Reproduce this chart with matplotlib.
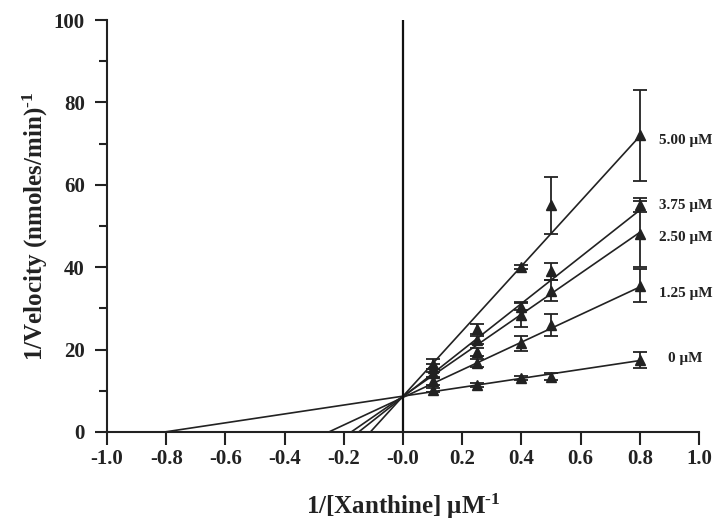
import numpy as np
import matplotlib
matplotlib.use('Agg')
import matplotlib.pyplot as plt
from matplotlib.ticker import MultipleLocator, FixedLocator, FixedFormatter

plt.rcParams['font.family'] = ['Liberation Serif', 'DejaVu Serif']
plt.rcParams['font.weight'] = 'bold'
plt.rcParams['axes.unicode_minus'] = False
plt.rcParams['mathtext.fontset'] = 'custom'
plt.rcParams['mathtext.rm'] = 'Liberation Serif:bold'
plt.rcParams['mathtext.bf'] = 'Liberation Serif:bold'
plt.rcParams['mathtext.default'] = 'rm'

# Данные (Lineweaver-Burk)
x_pts = [0.1, 0.25, 0.4, 0.5, 0.8]  # 1/[Xanthine]
labels = ['0 μM', '1.25 μM', '2.50 μM', '3.75 μM', '5.00 μM']
y_pts = [
    [10.2, 11.3, 13.0, 13.4, 17.5],
    [12.3, 16.8, 21.5, 26.0, 35.5],
    [14.3, 19.5, 28.5, 34.3, 48.0],
    [15.5, 22.3, 30.4, 39.0, 55.0],
    [16.5, 25.0, 40.0, 55.0, 72.0],
]
y_err = [
    [0.5, 0.5, 0.5, 0.9, 2.0],
    [0.8, 1.0, 1.8, 2.7, 4.0],
    [1.0, 1.0, 3.0, 2.5, 8.0],
    [1.0, 1.0, 0.8, 2.0, 1.7],
    [1.2, 1.2, 0.5, 7.0, 11.0],
]
slopes = [10.8, 33.5, 49.7, 56.7, 78.9]
intercepts = [8.7, 8.4, 8.7, 8.5, 8.7]
label_pos = [(0.895, 17.9), (0.865, 33.7), (0.865, 47.1), (0.865, 55.1), (0.865, 70.8)]

x_ticks = [-1.0, -0.8, -0.6, -0.4, -0.2, 0.0, 0.2, 0.4, 0.6, 0.8, 1.0]
x_tick_labels = ['-1.0', '-0.8', '-0.6', '-0.4', '-0.2', '-0.0',
                 '0.2', '0.4', '0.6', '0.8', '1.0']

col = '#222222'

fig = plt.figure(figsize=(7.15, 5.29), dpi=100)
ax = fig.add_axes([0.1497, 0.1834, 0.8279, 0.7786])

for k in range(len(labels)):
    x0 = -intercepts[k] / slopes[k]  # пересечение с осью X
    xs = np.array([x0, 0.8])
    ax.plot(xs, slopes[k] * xs + intercepts[k], color=col, lw=1.2)
    ax.errorbar(x_pts, y_pts[k], yerr=y_err[k], fmt='^', color=col,
                ms=6.5, capsize=5, elinewidth=1.3, capthick=1.3)
    ax.text(label_pos[k][0], label_pos[k][1], labels[k], fontsize=11,
            fontweight='bold', color=col, va='center', ha='left')

ax.plot([0, 0], [0, 100], color='#111111', lw=1.6)

ax.set_xlim(-1.0, 1.0)
ax.set_ylim(0, 100)
for s in ['top', 'right']:
    ax.spines[s].set_visible(False)
for s in ['left', 'bottom']:
    ax.spines[s].set_linewidth(1.5)
    ax.spines[s].set_color(col)
ax.spines['left'].set_bounds(0, 100)

ax.xaxis.set_major_locator(FixedLocator(x_ticks))
ax.xaxis.set_major_formatter(FixedFormatter(x_tick_labels))
ax.yaxis.set_major_locator(MultipleLocator(20))
ax.yaxis.set_minor_locator(MultipleLocator(10))
ax.tick_params(axis='both', which='major', labelsize=15, length=9,
               width=1.5, color=col, labelcolor=col, direction='out')
ax.tick_params(axis='y', which='major', pad=7)
ax.tick_params(axis='y', which='minor', length=6, width=1.5, color=col)
for t in ax.get_xticklabels() + ax.get_yticklabels():
    t.set_fontweight('bold')

ax.set_xlabel('1/[Xanthine] μM$^{\u2010' + '1}$', fontsize=18, fontweight='bold',
              color=col, labelpad=16)
ax.set_ylabel('1/Velocity (nmoles/min)$^{\u2010' + '1}$', fontsize=18,
              fontweight='bold', color=col, labelpad=3)

fig.savefig('out.png', dpi=100)
